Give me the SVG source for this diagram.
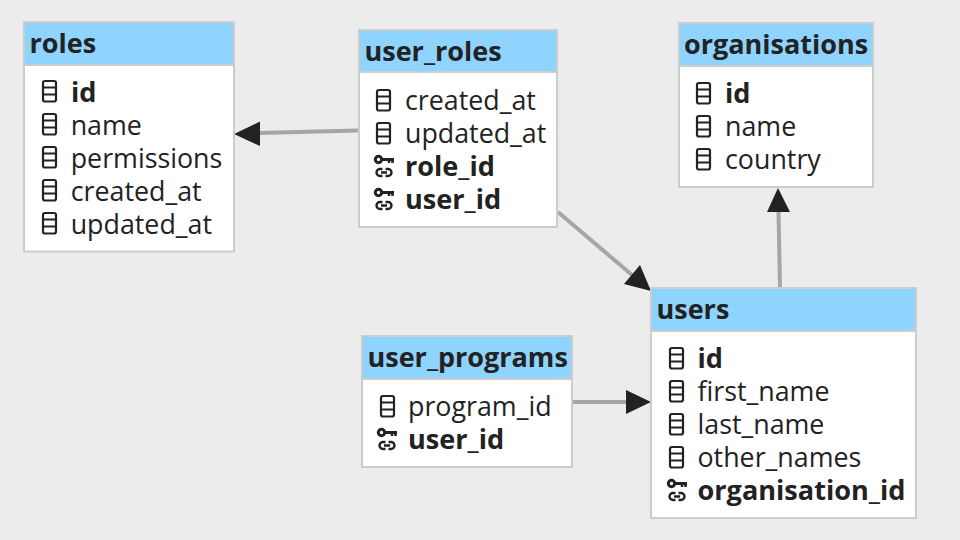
<svg xmlns="http://www.w3.org/2000/svg" width="960" height="540" viewBox="0 0 960 540">
<style>
text{font-family:"Open Sans","Noto Sans",sans-serif;font-size:26.800px;fill:#222}
.t{font-weight:700;font-size:27px}
.b{font-weight:700;font-size:27.100px}
.box{fill:#fff;stroke:#ccc;stroke-width:2}
.hd{fill:#8fd3ff}
.sep{stroke:#ccc;stroke-width:2}
.i{fill:none;stroke:#222;stroke-width:2.200}
.c{stroke:#a6a6a6;stroke-width:4;fill:none}
.a{fill:#222}
</style>
<defs>
<g id="col" class="i"><rect x="-6.500" y="-10" width="13" height="20.500" rx="2"/><path d="M-6.500-3.500H6.500M-6.500 3.500H6.500"/></g>
<g id="key" class="i"><circle cx="-5.500" cy="-6.500" r="3.200" stroke-width="3"/><path d="M-3-6.500H10" stroke-width="3"/><path d="M5-6.500V-3M8.500-6.500V-3" stroke-width="2.500"/><path d="M-1.500 3H-4A3.500 3.500 0 0 0-4 10H-1.500M1.500 3H4A3.500 3.500 0 0 1 4 10H1.500M-3 6.500H3" stroke-width="2.400"/></g>
</defs>
<rect width="960" height="540" fill="#ececec"/>
<g id="connectors">
<path class="c" d="M358 130.500L258 133"/><path class="a" d="M234 134L260 121.500V146Z"/>
<path class="c" d="M558 212L632 275"/><path class="a" d="M651 291L624 284L640 265Z"/>
<path class="c" d="M573 402H628"/><path class="a" d="M651 402L626 390V414Z"/>
<path class="c" d="M780 287L778.500 210"/><path class="a" d="M778 188L790 212H767Z"/>
</g>
<g id="roles">
<rect class="box" x="24" y="22" width="210" height="229.500"/><rect class="hd" x="25" y="23" width="208" height="42"/><path class="sep" d="M25 65H233"/>
<text class="t" x="29.500" y="53">roles</text>
<use href="#col" x="49.500" y="91"/><text class="b" x="71" y="102">id</text>
<use href="#col" x="49.500" y="124"/><text x="70.700" y="135">name</text>
<use href="#col" x="49.500" y="157"/><text x="70.700" y="168">permissions</text>
<use href="#col" x="49.500" y="190"/><text x="70.700" y="201">created_at</text>
<use href="#col" x="49.500" y="223"/><text x="70.700" y="234">updated_at</text>
</g>
<g id="user_roles">
<rect class="box" x="359" y="30" width="198" height="197"/><rect class="hd" x="360" y="31" width="196" height="41"/><path class="sep" d="M360 72H556"/>
<text class="t" x="364.500" y="61">user_roles</text>
<use href="#col" x="383.500" y="100"/><text x="405" y="110">created_at</text>
<use href="#col" x="383.500" y="133"/><text x="405" y="143">updated_at</text>
<use href="#key" x="384" y="166"/><text class="b" x="405" y="176">role_id</text>
<use href="#key" x="384" y="199"/><text class="b" x="405" y="209">user_id</text>
</g>
<g id="organisations">
<rect class="box" x="679" y="23" width="194" height="164"/><rect class="hd" x="680" y="24" width="192" height="42"/><path class="sep" d="M680 66H872"/>
<text class="t" x="684" y="54">organisations</text>
<use href="#col" x="703.500" y="93"/><text class="b" x="725" y="103">id</text>
<use href="#col" x="703.500" y="126"/><text x="725" y="136">name</text>
<use href="#col" x="703.500" y="159"/><text x="725" y="169">country</text>
</g>
<g id="user_programs">
<rect class="box" x="362" y="336" width="210" height="131"/><rect class="hd" x="363" y="337" width="208" height="42"/><path class="sep" d="M363 379H571"/>
<text class="t" x="367.500" y="367">user_programs</text>
<use href="#col" x="387.500" y="406"/><text x="408" y="416">program_id</text>
<use href="#key" x="387" y="439"/><text class="b" x="408" y="449">user_id</text>
</g>
<g id="users">
<rect class="box" x="651" y="288" width="265" height="230"/><rect class="hd" x="652" y="289" width="263" height="42"/><path class="sep" d="M652 331H915"/>
<text class="t" x="656.500" y="319">users</text>
<use href="#col" x="676.500" y="358"/><text class="b" x="697.500" y="368">id</text>
<use href="#col" x="676.500" y="391"/><text x="697.500" y="401">first_name</text>
<use href="#col" x="676.500" y="424"/><text x="697.500" y="434">last_name</text>
<use href="#col" x="676.500" y="457"/><text x="697.500" y="467">other_names</text>
<use href="#key" x="677" y="490"/><text class="b" x="697.500" y="500">organisation_id</text>
</g>
</svg>
